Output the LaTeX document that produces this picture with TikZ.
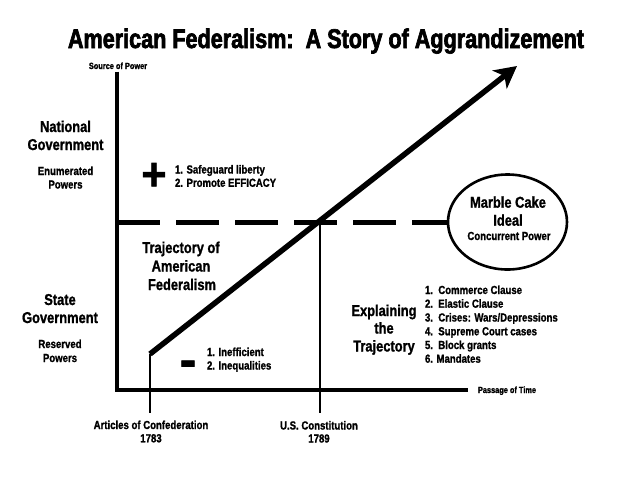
\documentclass[tikz,border=0pt]{standalone}
\usepackage{fontspec}
\setmainfont{Liberation Sans}[FakeStretch=0.82, BoldFeatures={FakeBold=1.2}]
\newfontfamily\titlefont{Liberation Sans}[FakeStretch=0.8, BoldFeatures={FakeBold=2.5}]
\usetikzlibrary{arrows.meta,shapes.geometric}
\tikzset{
  txt/.style={inner sep=0pt, outer sep=0pt, anchor=base},
  ttl/.style={txt, font=\titlefont\fontsize{27}{27}\selectfont\bfseries},
  hd/.style={txt, font=\fontsize{15.7}{15.7}\selectfont\bfseries},
  bd/.style={txt, font=\fontsize{11.7}{11.7}\selectfont\bfseries},
  sm/.style={txt, font=\fontsize{9}{9}\selectfont\bfseries},
  axis/.style={line width=4.6pt, line join=miter},
  thin/.style={line width=1.8pt},
  dashline/.style={line width=5pt, dash pattern=on 43pt off 16pt},
  traj/.style={line width=5.5pt, -{Stealth[length=22pt,width=23pt,inset=6pt]}},
  cake/.style={ellipse, draw, line width=2.6pt, minimum width=119pt, minimum height=95pt, inner sep=0pt}
}
\begin{document}
\begin{tikzpicture}[x=1pt,y=-1pt]
\useasboundingbox[fill=white] (0,0) rectangle (640,480);
% title
\node[ttl] (title) at (326,48) {American Federalism:\ \ A Story of Aggrandizement};
% axes
\coordinate (ytop) at (117,71.5);
\coordinate (origin) at (117,390);
\coordinate (xend) at (467.5,390);
\draw[axis] (ytop) -- (origin) -- (xend);
\node[sm] (srcpow) at (118,69) {Source of Power};
\node[sm] (passtime) at (507,393) {Passage of Time};
% marble cake
\node[cake] (cake) at (507.5,222) {};
\node[hd] (mc1) at (508,207.7) {Marble Cake};
\node[hd] (mc2) at (508,225.7) {Ideal};
\node[bd] (mc3) at (509,240) {Concurrent Power};
% dashed line
\coordinate (dstart) at (117,222);
\draw[dashline] (dstart) -- (cake.west);
% left labels
\node[hd] (nat1) at (65.5,132) {National};
\node[hd] (nat2) at (65.5,150) {Government};
\node[bd] (enum1) at (65.5,175) {Enumerated};
\node[bd] (enum2) at (65.5,188.5) {Powers};
\node[hd] (st1) at (60,305) {State};
\node[hd] (st2) at (60,323) {Government};
\node[bd] (res1) at (60,348) {Reserved};
\node[bd] (res2) at (60,362) {Powers};
% plus
\node[txt, anchor=center, font=\fontsize{46}{46}\selectfont\bfseries] (plus) at (154,176.5) {\scalebox{1.15}[1]{+}};
\node[bd, anchor=base west] (pl1) at (175,173.5) {1. Safeguard liberty};
\node[bd, anchor=base west] (pl2) at (175,186.8) {2. Promote EFFICACY};
% minus
\node[txt, anchor=center, font=\fontsize{38}{38}\selectfont\bfseries] (minus) at (188,368.5) {\scalebox{1.6}[1.3]{-}};
\node[bd, anchor=base west] (mi1) at (207,356) {1. Inefficient};
\node[bd, anchor=base west] (mi2) at (207,369.5) {2. Inequalities};
% trajectory label
\node[hd] (tr1) at (181,253) {Trajectory of};
\node[hd] (tr2) at (181,271.5) {American};
\node[hd] (tr3) at (182,290) {Federalism};
% explaining
\node[hd] (ex1) at (384,316) {Explaining};
\node[hd] (ex2) at (384,333.5) {the};
\node[hd] (ex3) at (384,351.5) {Trajectory};
\node[bd, anchor=base west] (l1) at (425,294) {1.\ \ Commerce Clause};
\node[bd, anchor=base west] (l2) at (425,307.7) {2.\ \ Elastic Clause};
\node[bd, anchor=base west] (l3) at (425,321.5) {3.\ \ Crises: Wars/Depressions};
\node[bd, anchor=base west] (l4) at (425,335.3) {4.\ \ Supreme Court cases};
\node[bd, anchor=base west] (l5) at (425,349) {5.\ \ Block grants};
\node[bd, anchor=base west] (l6) at (425,362.7) {6. Mandates};
% time markers
\coordinate (tstart) at (150,354);
\coordinate (tend) at (517,66);
\coordinate (aoc) at (150,413);
\coordinate (cross) at (320,222);
\coordinate (usc) at (320,413);
\draw[thin] (tstart) -- (aoc);
\draw[thin] (cross) -- (usc);
\node[bd] (aoc1) at (151,429) {Articles of Confederation};
\node[bd] (aoc2) at (151,442.3) {1783};
\node[bd] (usc1) at (319,429.5) {U.S. Constitution};
\node[bd] (usc2) at (319,442.5) {1789};
% trajectory arrow
\draw[traj, line cap=butt] (tstart) -- (tend);
\end{tikzpicture}
\end{document}
